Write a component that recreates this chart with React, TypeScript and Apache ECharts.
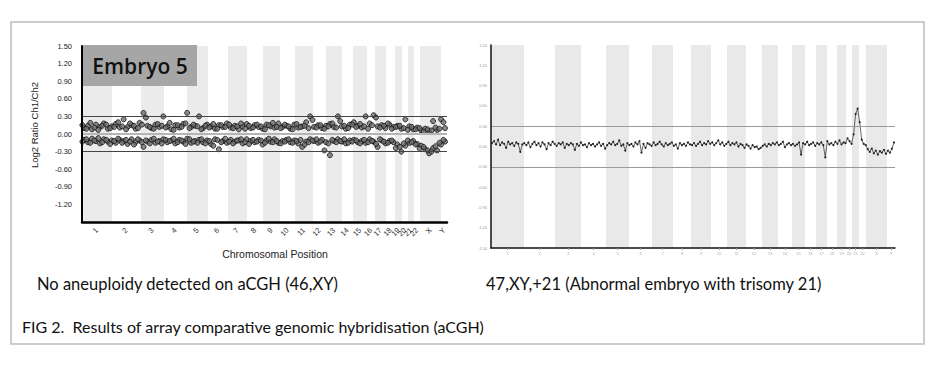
import React, { useEffect, useRef } from "react";
import * as echarts from "echarts";

// Chromosome names and their widths on each panel's x axis (probe-position units)
const chromNames = ["1","2","3","4","5","6","7","8","9","10","11","12","13","14","15","16","17","18","19","20","21","22","X","Y"];
const leftSpan = [30,29,23,23,21,20,19,16,17,15,18,13,16,11,14,8,11,9,7,6,6,6,21,6];
const rightSpan = [33,31,26,25,23,23,21,18,20,16,19,16,16,14,13,11,11,10,9,6,7,7,21,8];

// Left panel (Embryo 5): log2 ratios, upper and lower probe rows (two interleaved sets each)
const leftUpper = [
  0.10,0.14,0.08,0.16,0.12,0.18,0.09,0.13,0.17,0.11,
  0.25,0.12,0.15,0.09,0.19,0.36,0.14,0.10,0.16,0.12,
  0.30,0.13,0.08,0.15,0.11,0.17,0.36,0.12,0.14,0.30,
  0.10,0.16,0.13,0.09,0.15,0.12,0.18,0.11,0.14,0.08,
  0.13,0.17,0.10,0.15,0.12,0.09,0.16,0.13,0.11,0.18,
  0.12,0.14,0.09,0.16,0.11,0.13,0.20,0.30,0.12,0.15,
  0.10,0.14,0.17,0.12,0.30,0.13,0.09,0.16,0.20,0.14,
  0.11,0.30,0.18,0.32,0.13,0.15,0.10,0.16,0.12,0.14,
  0.09,0.25,0.13,0.08,0.11,0.06,0.09,0.05,0.22,0.07,0.25,0.10
];
const leftUpper2 = [
  0.15,0.09,0.19,0.11,0.07,0.14,0.16,0.10,0.12,0.20,
  0.13,0.08,0.18,0.14,0.10,0.16,0.28,0.12,0.09,0.17,
  0.14,0.11,0.19,0.07,0.15,0.12,0.18,0.10,0.16,0.13,
  0.08,0.14,0.11,0.17,0.09,0.15,0.12,0.16,0.10,0.13,
  0.18,0.09,0.14,0.11,0.16,0.13,0.08,0.15,0.19,0.12,
  0.10,0.16,0.13,0.08,0.17,0.12,0.14,0.10,0.24,0.11,
  0.15,0.09,0.13,0.18,0.11,0.22,0.14,0.10,0.16,0.12,
  0.17,0.13,0.09,0.15,0.28,0.11,0.14,0.18,0.09,0.12,
  0.14,0.10,0.07,0.12,0.08,0.10,0.04,0.08,0.06,0.11,0.09,0.20
];
const leftLower = [
  -0.10,-0.14,-0.08,-0.12,-0.16,-0.09,-0.13,-0.11,-0.15,-0.10,
  -0.12,-0.17,-0.09,-0.14,-0.11,-0.22,-0.13,-0.10,-0.15,-0.12,
  -0.09,-0.14,-0.11,-0.16,-0.10,-0.13,-0.08,-0.15,-0.12,-0.10,
  -0.14,-0.11,-0.17,-0.09,-0.26,-0.12,-0.15,-0.10,-0.13,-0.11,
  -0.16,-0.09,-0.12,-0.14,-0.10,-0.18,-0.11,-0.13,-0.09,-0.15,
  -0.12,-0.10,-0.14,-0.11,-0.16,-0.22,-0.13,-0.09,-0.12,-0.15,
  -0.10,-0.14,-0.36,-0.12,-0.09,-0.13,-0.16,-0.11,-0.10,-0.14,
  -0.12,-0.15,-0.09,-0.13,-0.22,-0.11,-0.16,-0.12,-0.14,-0.18,
  -0.30,-0.20,-0.15,-0.12,-0.17,-0.20,-0.26,-0.33,-0.24,-0.28,-0.18,-0.13
];
const leftLower2 = [
  -0.13,-0.09,-0.15,-0.11,-0.07,-0.14,-0.10,-0.17,-0.12,-0.08,
  -0.15,-0.10,-0.13,-0.18,-0.09,-0.14,-0.11,-0.16,-0.08,-0.13,
  -0.16,-0.10,-0.12,-0.08,-0.14,-0.11,-0.17,-0.09,-0.13,-0.15,
  -0.09,-0.16,-0.12,-0.20,-0.10,-0.14,-0.08,-0.13,-0.16,-0.11,
  -0.09,-0.14,-0.17,-0.10,-0.13,-0.11,-0.15,-0.08,-0.14,-0.12,
  -0.16,-0.13,-0.09,-0.15,-0.12,-0.10,-0.18,-0.14,-0.11,-0.09,
  -0.13,-0.28,-0.16,-0.10,-0.14,-0.12,-0.09,-0.15,-0.13,-0.11,
  -0.16,-0.10,-0.14,-0.12,-0.17,-0.09,-0.13,-0.15,-0.11,-0.24,
  -0.22,-0.16,-0.11,-0.14,-0.18,-0.25,-0.22,-0.28,-0.30,-0.21,-0.15,-0.10
];

// Right panel (trisomy 21 embryo): log2 ratio trace
const rightTrace = [
  0.05,0.08,0.03,0.10,0.02,0.06,0.04,-0.02,0.07,0.03,0.05,0.01,0.06,0.04,-0.08,0.03,0.05,0.02,0.06,-0.01,
  0.04,0.07,0.02,0.05,0.00,0.06,0.03,-0.04,0.05,0.02,0.07,0.04,0.01,0.05,0.03,0.06,-0.02,0.04,0.02,0.05,
  0.03,-0.05,0.04,0.01,0.06,0.02,0.03,-0.01,0.05,0.02,0.04,0.00,0.03,0.06,0.01,0.04,-0.03,0.02,0.05,0.03,
  0.07,0.02,0.04,0.09,0.01,0.03,-0.06,0.05,0.02,0.04,0.00,0.06,0.03,0.08,-0.09,0.04,-0.02,0.05,0.03,0.01,
  0.06,0.02,0.04,0.07,0.03,0.00,0.05,0.02,0.04,0.06,0.01,0.03,-0.03,0.05,0.02,0.04,0.01,0.06,0.03,0.02,
  0.05,0.01,0.04,0.07,0.02,0.05,0.03,0.08,0.04,0.06,0.02,0.05,0.09,0.03,0.06,0.01,0.04,0.07,0.02,0.05,
  0.03,0.06,0.00,0.04,0.02,-0.02,0.03,0.01,-0.03,0.02,-0.01,0.00,-0.04,-0.02,0.01,0.03,0.00,0.04,0.02,0.05,
  0.03,0.06,0.02,0.04,0.07,-0.01,0.03,0.05,0.02,0.04,0.01,0.03,0.06,-0.12,0.05,0.03,0.07,0.02,0.04,0.06,
  0.01,0.05,0.03,0.06,0.02,-0.16,0.08,0.03,0.05,0.02,0.07,0.04,0.09,0.03,0.06,0.05,0.12,0.08,0.04,0.18,
  0.48,0.56,0.36,0.10,0.04,0.02,-0.04,-0.08,-0.03,-0.10,-0.06,-0.12,-0.07,-0.09,-0.05,-0.11,-0.06,-0.09,-0.03,0.06
];

const yMin = -1.5;
const yMax = 1.5;
const yStep = 0.3;
const thresholds = [0.3, -0.3];

function layout(spans: number[]) {
  const starts: number[] = [];
  const centers: number[] = [];
  let s = 0;
  for (const w of spans) {
    starts.push(s);
    centers.push(s + w / 2);
    s += w;
  }
  return { starts, centers, total: s };
}

const FONT = "'Liberation Sans', Arial, sans-serif";
const CAP_FONT = "Lato, 'Open Sans', sans-serif";

export default function App() {
  const ref = useRef<HTMLDivElement>(null);

  useEffect(() => {
    if (!ref.current) return;
    const chart = echarts.init(ref.current, undefined, { renderer: "svg" });

    const L = layout(leftSpan);
    const R = layout(rightSpan);

    const nameFor = (centers: number[]) => (v: number) => {
      const i = centers.findIndex((c) => Math.abs(c - v) < 0.01);
      return i >= 0 ? chromNames[i] : "";
    };

    const bands = (lay: { starts: number[] }, spans: number[]) =>
      spans
        .map((w, i) => (i % 2 === 0 ? [{ xAxis: lay.starts[i] }, { xAxis: lay.starts[i] + w }] : null))
        .filter(Boolean);

    const place = (arr: number[], total: number, offset: number) =>
      arr.map((v, i) => [((i + offset) * total) / arr.length, v]);

    const leftData = [
      ...place(leftUpper, L.total, 0.5),
      ...place(leftUpper2, L.total, 0.1),
      ...place(leftLower, L.total, 0.5),
      ...place(leftLower2, L.total, 0.1),
    ];
    const rightData = place(rightTrace, R.total, 0.5);

    const option: any = {
      animation: false,
      backgroundColor: "#ffffff",
      grid: [
        { left: 82, top: 46, width: 365, height: 176 },
        { left: 491, top: 45, width: 404, height: 203 },
      ],
      xAxis: [
        {
          gridIndex: 0,
          type: "value",
          z: 10,
          min: 0,
          max: L.total,
          axisLine: { onZero: false, lineStyle: { color: "#000", width: 2.5 } },
          axisTick: { show: false },
          splitLine: { show: false },
          axisLabel: {
            customValues: L.centers,
            formatter: nameFor(L.centers),
            rotate: 45,
            fontSize: 7.5,
            color: "#333",
            margin: 7,
            fontFamily: FONT,
          },
        },
        {
          gridIndex: 1,
          type: "value",
          z: 10,
          min: 0,
          max: R.total,
          axisLine: { onZero: false, lineStyle: { color: "#111", width: 1.5 } },
          axisTick: { show: true, customValues: R.centers, length: 2, lineStyle: { color: "#999" } },
          splitLine: { show: false },
          axisLabel: {
            customValues: R.centers,
            formatter: nameFor(R.centers),
            fontSize: 4,
            color: "#aaa",
            margin: 3,
            fontFamily: FONT,
          },
        },
      ],
      yAxis: [
        {
          gridIndex: 0,
          type: "value",
          z: 10,
          min: yMin,
          max: yMax,
          interval: yStep,
          axisLine: { show: true, lineStyle: { color: "#000", width: 2 } },
          axisTick: { show: false },
          splitLine: { show: false },
          axisLabel: {
            formatter: (v: number) => (Math.abs(v - yMin) < 1e-6 ? "" : v.toFixed(2)),
            fontSize: 7.5,
            color: "#222",
            margin: 10,
            fontFamily: FONT,
          },
        },
        {
          gridIndex: 1,
          type: "value",
          z: 10,
          min: yMin,
          max: yMax,
          interval: yStep,
          axisLine: { show: true, lineStyle: { color: "#111", width: 1.5 } },
          axisTick: { show: false },
          splitLine: { show: false },
          axisLabel: {
            formatter: (v: number) => v.toFixed(2),
            fontSize: 4,
            color: "#999",
            margin: 4,
            fontFamily: FONT,
          },
        },
      ],
      series: [
        {
          type: "scatter",
          xAxisIndex: 0,
          yAxisIndex: 0,
          data: leftData,
          symbol: "circle",
          symbolSize: 5,
          itemStyle: { color: "#6e6e6e", borderColor: "#111", borderWidth: 1 },
          markArea: {
            silent: true,
            itemStyle: { color: "#ebebeb" },
            data: bands(L, leftSpan),
          },
          markLine: {
            silent: true,
            symbol: "none",
            label: { show: false },
            data: [
              ...thresholds.map((t) => ({ yAxis: t, lineStyle: { color: "#444", width: 1.2, type: "solid" } })),
              { yAxis: 0, lineStyle: { color: "#b5b5b5", width: 2, type: "solid" } },
            ],
          },
        },
        {
          type: "line",
          xAxisIndex: 1,
          yAxisIndex: 1,
          data: rightData,
          symbol: "circle",
          symbolSize: 2,
          showSymbol: true,
          showAllSymbol: true,
          lineStyle: { color: "#222", width: 0.7 },
          itemStyle: { color: "#222" },
          markArea: {
            silent: true,
            itemStyle: { color: "#e9e9e9" },
            data: bands(R, rightSpan),
          },
          markLine: {
            silent: true,
            symbol: "none",
            label: { show: false },
            data: thresholds.map((t) => ({ yAxis: t, lineStyle: { color: "#9a9a9a", width: 1, type: "solid" } })),
          },
        },
      ],
      graphic: [
        {
          type: "rect",
          z: 100,
          shape: { x: 11, y: 22, width: 913, height: 322 },
          style: { fill: "none", stroke: "#bdbdbd", lineWidth: 1.5 },
        },
        {
          type: "rect",
          z: 100,
          shape: { x: 83, y: 45, width: 114, height: 41 },
          style: { fill: "#a6a6a6" },
        },
        {
          type: "text",
          z: 101,
          x: 140,
          y: 66,
          style: {
            text: "Embryo 5",
            fontSize: 21,
            fontWeight: 600,
            fontFamily: "'Open Sans', sans-serif",
            fill: "#111",
            align: "center",
            verticalAlign: "middle",
          },
        },
        {
          type: "text",
          z: 100,
          x: 34,
          y: 125,
          rotation: Math.PI / 2,
          style: {
            text: "Log2 Ratio Ch1/Ch2",
            fontSize: 9.5,
            fontFamily: FONT,
            fill: "#222",
            align: "center",
            verticalAlign: "middle",
          },
        },
        {
          type: "text",
          z: 100,
          x: 275,
          y: 254,
          style: {
            text: "Chromosomal Position",
            fontSize: 10.5,
            fontFamily: FONT,
            fill: "#222",
            align: "center",
            verticalAlign: "middle",
          },
        },
        {
          type: "text",
          z: 100,
          x: 37,
          y: 284,
          style: {
            text: "No aneuploidy detected on aCGH (46,XY)",
            fontSize: 16.5,
            fontFamily: CAP_FONT,
            fill: "#111",
            align: "left",
            verticalAlign: "middle",
          },
        },
        {
          type: "text",
          z: 100,
          x: 486,
          y: 284,
          style: {
            text: "47,XY,+21 (Abnormal embryo with trisomy 21)",
            fontSize: 16.5,
            fontFamily: CAP_FONT,
            fill: "#111",
            align: "left",
            verticalAlign: "middle",
          },
        },
        {
          type: "text",
          z: 100,
          x: 22,
          y: 326,
          style: {
            text: "FIG 2.  Results of array comparative genomic hybridisation (aCGH)",
            fontSize: 16,
            fontFamily: CAP_FONT,
            fill: "#111",
            align: "left",
            verticalAlign: "middle",
          },
        },
      ],
    };

    chart.setOption(option);
    return () => chart.dispose();
  }, []);

  return (
    <div
      ref={ref}
      style={{ position: "absolute", left: 0, top: 0, width: 943, height: 368, background: "#fff" }}
    />
  );
}
